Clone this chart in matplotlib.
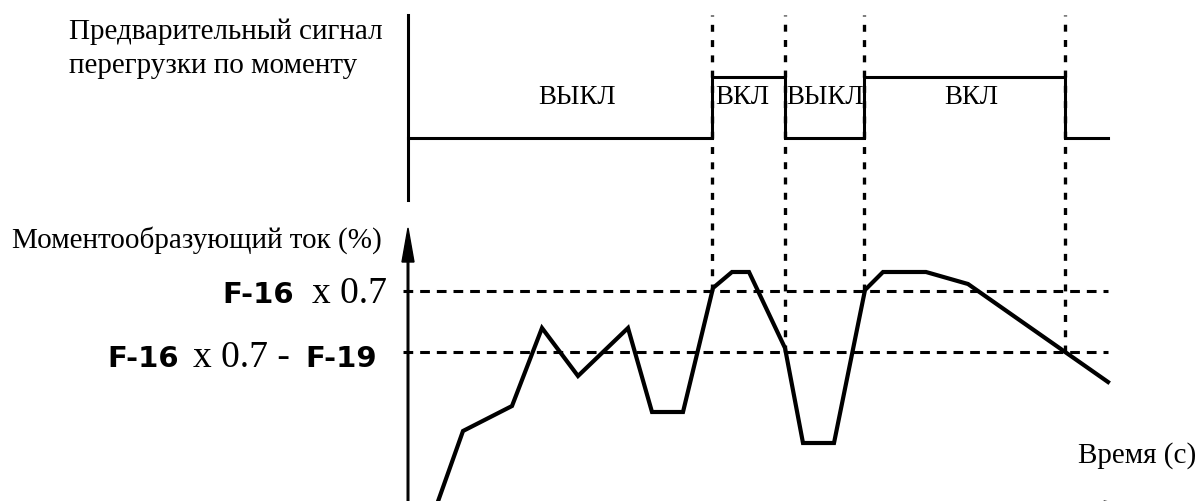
import matplotlib.pyplot as plt

plt.rcParams['lines.scale_dashes'] = False

# time positions (horizontal units) of the signal edges
edge_t = [408, 712, 785, 864, 1065, 1108]
edge_state = [0, 1, 0, 1, 0]          # 0 = ВЫКЛ, 1 = ВКЛ
state_labels = ['ВЫКЛ', 'ВКЛ', 'ВЫКЛ', 'ВКЛ']
label_centers = [577, 742, 825, 971]
sig_low, sig_high = 363, 424

# torque-producing current
cur_t = [436, 463, 512, 542, 578, 628, 652, 683, 713, 732, 749, 785,
         803, 834, 865, 883, 926, 968, 1108]
cur_v = [-6, 70, 95, 173, 125, 173, 89, 89, 213, 229, 229, 153,
         58, 58, 211, 229, 229, 217, 119]

level_hi = 210   # F-16 x 0.7
level_lo = 149   # F-16 x 0.7 - F-19
dash_t = [712, 785, 864, 1065]
dash_bottom = [level_hi, level_lo, level_hi, level_lo]

fig = plt.figure(figsize=(11.98, 5.01), dpi=100)
ax = fig.add_axes([0, 0, 1, 1])
ax.set_xlim(0, 1198)
ax.set_ylim(0, 501)
ax.axis('off')

serif = 'Liberation Serif'
seg = dict(family='DejaVu Sans', weight='bold', fontsize=21)

# top signal
ax.plot([408, 408], [301, 486], color='black', lw=2.2)
sx, sy = [], []
for i, st in enumerate(edge_state):
    lvl = sig_high if st else sig_low
    sx += [edge_t[i], edge_t[i + 1]]
    sy += [lvl, lvl]
ax.plot(sx, sy, color='black', lw=2.2, solid_joinstyle='miter')
for c, s in zip(label_centers, state_labels):
    ax.text(c, 397, s, family=serif, fontsize=19.4, ha='center', va='baseline')

# vertical dashed lines
for t, b in zip(dash_t, dash_bottom):
    ax.plot([t, t], [b, 486], color='black', lw=2.4, dashes=(5, 6))

# horizontal dashed thresholds
for lvl in (level_hi, level_lo):
    ax.plot([403, 1108], [lvl, lvl], color='black', lw=2.2, dashes=(7, 5))

# current axis (arrows)
ax.arrow(408, -5, 0, 278, width=1.6, head_width=12, head_length=34,
         length_includes_head=True, color='black')
ax.arrow(408, -7, 730, 0, width=1.6, head_width=14, head_length=34,
         length_includes_head=True, color='black')

ax.plot(cur_t, cur_v, color='black', lw=3, solid_joinstyle='miter')

# texts
ax.text(69, 462, 'Предварительный сигнал', family=serif, fontsize=21, va='baseline')
ax.text(69, 428, 'перегрузки по моменту', family=serif, fontsize=21, va='baseline')
ax.text(12, 253, 'Моментообразующий ток (%)', family=serif, fontsize=21, va='baseline')
ax.text(1078, 38, 'Время (с)', family=serif, fontsize=21, va='baseline')

ax.text(222, 198, 'F-16', va='baseline', **seg)
ax.text(312, 198, 'x 0.7', family=serif, fontsize=27, va='baseline')
ax.text(107, 134, 'F-16', va='baseline', **seg)
ax.text(193, 134, 'x 0.7 -', family=serif, fontsize=27, va='baseline')
ax.text(305, 134, 'F-19', va='baseline', **seg)

fig.savefig('out.png', dpi=100)
